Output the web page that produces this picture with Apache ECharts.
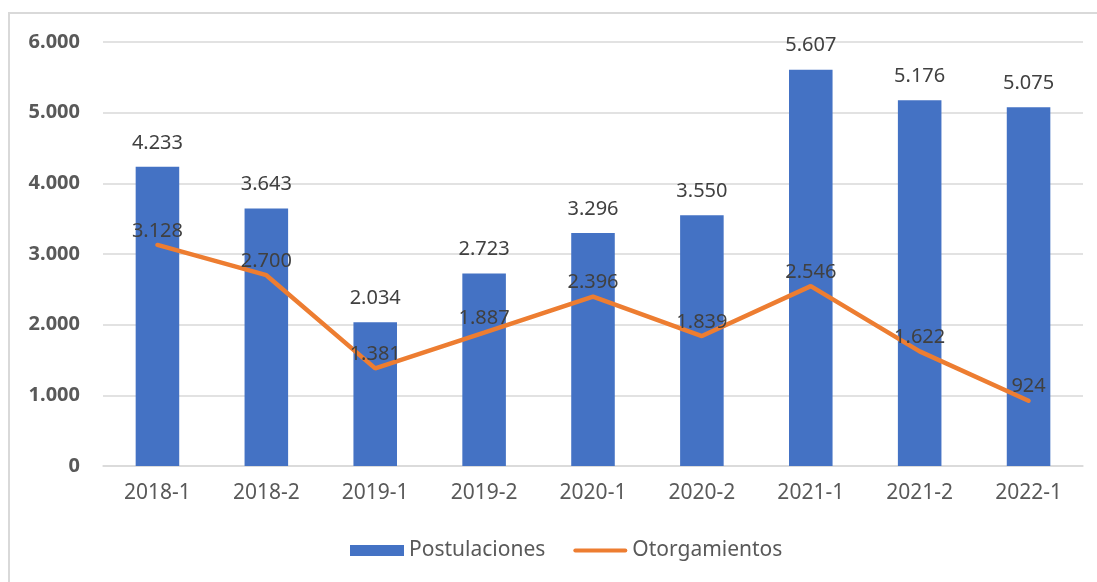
<!DOCTYPE html>
<html lang="es">
<head>
    <meta charset="UTF-8">
    <title>Postulaciones y Otorgamientos</title>
    <script src="https://cdn.jsdelivr.net/npm/echarts@6/dist/echarts.min.js"></script>
</head>
<body style="margin: 0; background: #fff">
<div id="frame" style="position: absolute; left: 8px; top: 12px; width: 1089px; height: 570px; border-left: 2px solid #d9d9d9; border-top: 2px solid #d9d9d9; box-sizing: border-box"></div>
<div id="chart" style="position: absolute; left: 0; top: 0; width: 1097px; height: 582px"></div>
<script>
    const periodos = ['2018-1', '2018-2', '2019-1', '2019-2', '2020-1', '2020-2', '2021-1', '2021-2', '2022-1'];
    const postulaciones = [4233, 3643, 2034, 2723, 3296, 3550, 5607, 5176, 5075];
    const otorgamientos = [3128, 2700, 1381, 1887, 2396, 1839, 2546, 1622, 924];

    // 4233 -> "4.233"
    function miles(v) {
        return String(v).replace(/\B(?=(\d{3})+(?!\d))/g, '.');
    }

    const fuente = '"Noto Sans", "Open Sans", sans-serif';
    let chart = echarts.init(document.getElementById('chart'));

    let option = {
        animation: false,
        textStyle: {fontFamily: fuente},
        grid: {left: 103, right: 14, top: 42, bottom: 116},
        legend: {
            bottom: 16,
            left: 345,
            itemGap: 28,
            itemWidth: 54,
            itemHeight: 11,
            textStyle: {fontSize: 21, color: '#595959', fontFamily: fuente},
            data: [
                {name: 'Postulaciones', icon: 'rect'},
                {name: 'Otorgamientos', icon: 'path://M2,0 L52,0 A2,2 0 0 1 52,4 L2,4 A2,2 0 0 1 2,0 Z'}
            ]
        },
        xAxis: {
            type: 'category',
            data: periodos,
            axisLine: {lineStyle: {color: '#d9d9d9', width: 1.5}},
            axisTick: {show: false},
            axisLabel: {fontSize: 21, color: '#595959', margin: 17}
        },
        yAxis: {
            type: 'value',
            min: 0,
            max: 6000,
            interval: 1000,
            axisLine: {show: false},
            axisTick: {show: false},
            splitLine: {lineStyle: {color: '#d9d9d9', width: 1.5}},
            axisLabel: {
                fontSize: 20,
                fontWeight: 'bold',
                color: '#595959',
                margin: 23,
                formatter: miles
            }
        },
        series: [
            {
                name: 'Postulaciones',
                type: 'bar',
                data: postulaciones,
                barWidth: '40%',
                itemStyle: {color: '#4472c4'},
                label: {
                    show: true,
                    position: 'top',
                    distance: 14,
                    fontSize: 20,
                    color: '#404040',
                    formatter: p => miles(p.value)
                }
            },
            {
                name: 'Otorgamientos',
                type: 'line',
                data: otorgamientos,
                symbol: 'circle',
                symbolSize: 0.1,
                lineStyle: {color: '#ed7d31', width: 4.5, cap: 'round'},
                itemStyle: {color: '#ed7d31'},
                label: {
                    show: true,
                    position: 'top',
                    distance: 4,
                    fontSize: 20,
                    color: '#404040',
                    formatter: p => miles(p.value)
                },
                z: 3
            }
        ]
    };
    chart.setOption(option);
</script>
</body>
</html>
